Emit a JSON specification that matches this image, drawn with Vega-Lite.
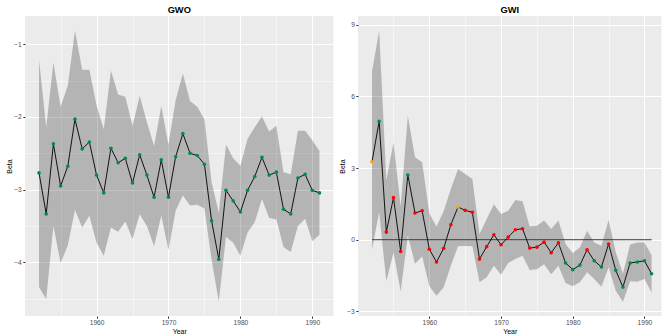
{
  "$schema": "https://vega.github.io/schema/vega-lite/v6.json",
  "padding": {"left": 5, "top": 5, "right": 0, "bottom": 0},
  "bounds": "flush",
  "spacing": 24,
  "datasets": {
    "gwo": [
      {"year": 1952, "beta": -2.77, "lo": -4.34, "hi": -1.21, "sig": "p<0.05"},
      {"year": 1953, "beta": -3.335, "lo": -4.51, "hi": -2.14, "sig": "p<0.05"},
      {"year": 1954, "beta": -2.37, "lo": -3.5, "hi": -1.25, "sig": "p<0.05"},
      {"year": 1955, "beta": -2.95, "lo": -4.01, "hi": -1.86, "sig": "p<0.05"},
      {"year": 1956, "beta": -2.68, "lo": -3.77, "hi": -1.57, "sig": "p<0.05"},
      {"year": 1957, "beta": -2.03, "lo": -3.28, "hi": -0.81, "sig": "p<0.05"},
      {"year": 1958, "beta": -2.44, "lo": -3.52, "hi": -1.35, "sig": "p<0.05"},
      {"year": 1959, "beta": -2.345, "lo": -3.36, "hi": -1.35, "sig": "p<0.05"},
      {"year": 1960, "beta": -2.8, "lo": -3.73, "hi": -1.84, "sig": "p<0.05"},
      {"year": 1961, "beta": -3.045, "lo": -3.91, "hi": -2.17, "sig": "p<0.05"},
      {"year": 1962, "beta": -2.43, "lo": -3.52, "hi": -1.36, "sig": "p<0.05"},
      {"year": 1963, "beta": -2.63, "lo": -3.58, "hi": -1.69, "sig": "p<0.05"},
      {"year": 1964, "beta": -2.57, "lo": -3.44, "hi": -1.72, "sig": "p<0.05"},
      {"year": 1965, "beta": -2.91, "lo": -3.68, "hi": -2.12, "sig": "p<0.05"},
      {"year": 1966, "beta": -2.52, "lo": -3.34, "hi": -1.71, "sig": "p<0.05"},
      {"year": 1967, "beta": -2.8, "lo": -3.5, "hi": -2.07, "sig": "p<0.05"},
      {"year": 1968, "beta": -3.105, "lo": -3.78, "hi": -2.4, "sig": "p<0.05"},
      {"year": 1969, "beta": -2.59, "lo": -3.36, "hi": -1.85, "sig": "p<0.05"},
      {"year": 1970, "beta": -3.105, "lo": -3.83, "hi": -2.38, "sig": "p<0.05"},
      {"year": 1971, "beta": -2.547, "lo": -3.29, "hi": -1.77, "sig": "p<0.05"},
      {"year": 1972, "beta": -2.23, "lo": -3.08, "hi": -1.4, "sig": "p<0.05"},
      {"year": 1973, "beta": -2.5, "lo": -3.22, "hi": -1.78, "sig": "p<0.05"},
      {"year": 1974, "beta": -2.53, "lo": -3.21, "hi": -1.86, "sig": "p<0.05"},
      {"year": 1975, "beta": -2.65, "lo": -3.26, "hi": -2.03, "sig": "p<0.05"},
      {"year": 1976, "beta": -3.43, "lo": -3.97, "hi": -2.9, "sig": "p<0.05"},
      {"year": 1977, "beta": -3.96, "lo": -4.54, "hi": -3.32, "sig": "p<0.05"},
      {"year": 1978, "beta": -3.01, "lo": -3.65, "hi": -2.38, "sig": "p<0.05"},
      {"year": 1979, "beta": -3.155, "lo": -3.73, "hi": -2.57, "sig": "p<0.05"},
      {"year": 1980, "beta": -3.307, "lo": -3.91, "hi": -2.67, "sig": "p<0.05"},
      {"year": 1981, "beta": -3.01, "lo": -3.59, "hi": -2.3, "sig": "p<0.05"},
      {"year": 1982, "beta": -2.82, "lo": -3.45, "hi": -2.14, "sig": "p<0.05"},
      {"year": 1983, "beta": -2.556, "lo": -3.13, "hi": -1.99, "sig": "p<0.05"},
      {"year": 1984, "beta": -2.8, "lo": -3.39, "hi": -2.2, "sig": "p<0.05"},
      {"year": 1985, "beta": -2.76, "lo": -3.41, "hi": -2.12, "sig": "p<0.05"},
      {"year": 1986, "beta": -3.27, "lo": -3.79, "hi": -2.76, "sig": "p<0.05"},
      {"year": 1987, "beta": -3.335, "lo": -3.86, "hi": -2.79, "sig": "p<0.05"},
      {"year": 1988, "beta": -2.84, "lo": -3.5, "hi": -2.19, "sig": "p<0.05"},
      {"year": 1989, "beta": -2.79, "lo": -3.4, "hi": -2.19, "sig": "p<0.05"},
      {"year": 1990, "beta": -3.01, "lo": -3.71, "hi": -2.32, "sig": "p<0.05"},
      {"year": 1991, "beta": -3.045, "lo": -3.62, "hi": -2.47, "sig": "p<0.05"}
    ],
    "gwi": [
      {"year": 1952, "beta": 3.26, "lo": -0.42, "hi": 7.03, "sig": "p<0.10"},
      {"year": 1953, "beta": 4.95, "lo": 1.15, "hi": 8.74, "sig": "p<0.05"},
      {"year": 1954, "beta": 0.32, "lo": -1.75, "hi": 2.5, "sig": "n.s."},
      {"year": 1955, "beta": 1.76, "lo": -0.53, "hi": 4.07, "sig": "n.s."},
      {"year": 1956, "beta": -0.49, "lo": -2.17, "hi": 1.4, "sig": "n.s."},
      {"year": 1957, "beta": 2.71, "lo": 0.17, "hi": 5.19, "sig": "p<0.05"},
      {"year": 1958, "beta": 1.12, "lo": -1.0, "hi": 3.45, "sig": "n.s."},
      {"year": 1959, "beta": 1.21, "lo": -0.7, "hi": 3.24, "sig": "n.s."},
      {"year": 1960, "beta": -0.4, "lo": -1.95, "hi": 1.1, "sig": "n.s."},
      {"year": 1961, "beta": -0.93, "lo": -2.34, "hi": 0.55, "sig": "n.s."},
      {"year": 1962, "beta": -0.36, "lo": -1.99, "hi": 1.2, "sig": "n.s."},
      {"year": 1963, "beta": 0.63, "lo": -1.09, "hi": 2.12, "sig": "n.s."},
      {"year": 1964, "beta": 1.37, "lo": -0.27, "hi": 2.96, "sig": "p<0.10"},
      {"year": 1965, "beta": 1.23, "lo": -0.26, "hi": 2.75, "sig": "n.s."},
      {"year": 1966, "beta": 1.15, "lo": -0.27, "hi": 2.54, "sig": "n.s."},
      {"year": 1967, "beta": -0.81, "lo": -1.78, "hi": 0.24, "sig": "n.s."},
      {"year": 1968, "beta": -0.29, "lo": -1.57, "hi": 0.87, "sig": "n.s."},
      {"year": 1969, "beta": 0.21, "lo": -1.09, "hi": 1.49, "sig": "n.s."},
      {"year": 1970, "beta": -0.21, "lo": -1.46, "hi": 1.08, "sig": "n.s."},
      {"year": 1971, "beta": 0.11, "lo": -0.97, "hi": 1.21, "sig": "n.s."},
      {"year": 1972, "beta": 0.42, "lo": -0.81, "hi": 1.66, "sig": "n.s."},
      {"year": 1973, "beta": 0.46, "lo": -0.67, "hi": 1.61, "sig": "n.s."},
      {"year": 1974, "beta": -0.35, "lo": -1.27, "hi": 0.55, "sig": "n.s."},
      {"year": 1975, "beta": -0.31, "lo": -1.23, "hi": 0.59, "sig": "n.s."},
      {"year": 1976, "beta": -0.1, "lo": -1.02, "hi": 0.8, "sig": "n.s."},
      {"year": 1977, "beta": -0.54, "lo": -1.44, "hi": 0.45, "sig": "n.s."},
      {"year": 1978, "beta": -0.13, "lo": -1.09, "hi": 0.8, "sig": "n.s."},
      {"year": 1979, "beta": -0.97, "lo": -1.81, "hi": -0.18, "sig": "p<0.05"},
      {"year": 1980, "beta": -1.25, "lo": -1.95, "hi": -0.55, "sig": "p<0.05"},
      {"year": 1981, "beta": -1.06, "lo": -1.78, "hi": -0.32, "sig": "p<0.05"},
      {"year": 1982, "beta": -0.42, "lo": -1.36, "hi": 0.38, "sig": "n.s."},
      {"year": 1983, "beta": -0.88, "lo": -1.64, "hi": -0.11, "sig": "p<0.05"},
      {"year": 1984, "beta": -1.14, "lo": -1.97, "hi": -0.25, "sig": "p<0.05"},
      {"year": 1985, "beta": -0.18, "lo": -1.16, "hi": 0.83, "sig": "n.s."},
      {"year": 1986, "beta": -1.28, "lo": -2.13, "hi": -0.52, "sig": "p<0.05"},
      {"year": 1987, "beta": -1.98, "lo": -2.6, "hi": -1.41, "sig": "p<0.05"},
      {"year": 1988, "beta": -0.97, "lo": -1.74, "hi": -0.2, "sig": "p<0.05"},
      {"year": 1989, "beta": -0.93, "lo": -1.76, "hi": -0.11, "sig": "p<0.05"},
      {"year": 1990, "beta": -0.88, "lo": -1.64, "hi": -0.11, "sig": "p<0.05"},
      {"year": 1991, "beta": -1.42, "lo": -2.21, "hi": -0.65, "sig": "p<0.05"}
    ]
  },
  "hconcat": [
    {
      "title": "GWO",
      "width": 308.5,
      "height": 300,
      "data": {"name": "gwo"},
      "encoding": {
        "x": {
          "field": "year", "type": "quantitative",
          "scale": {"domain": [1950.05, 1992.95], "nice": false, "zero": false},
          "axis": {
            "title": "Year",
            "values": [1955, 1960, 1965, 1970, 1975, 1980, 1985, 1990],
            "labelExpr": "datum.value % 10 === 0 ? format(datum.value, 'd') : ''",
            "gridWidth": {"condition": {"test": "datum.value % 10 === 0", "value": 1}, "value": 0.5},
            "tickOpacity": {"condition": {"test": "datum.value % 10 === 0", "value": 1}, "value": 0}
          }
        }
      },
      "layer": [
        {
          "mark": {"type": "area", "fill": "#000000", "fillOpacity": 0.23},
          "encoding": {
            "y": {
              "field": "lo", "type": "quantitative",
              "scale": {"domain": [-4.74, -0.61], "nice": false, "zero": false},
              "axis": {
                "title": "Beta",
                "values": [-4.5, -4, -3.5, -3, -2.5, -2, -1.5, -1],
                "labelExpr": "datum.value % 1 === 0 ? format(datum.value, 'd') : ''",
                "gridWidth": {"condition": {"test": "datum.value % 1 === 0", "value": 1}, "value": 0.5},
                "tickOpacity": {"condition": {"test": "datum.value % 1 === 0", "value": 1}, "value": 0}
              }
            },
            "y2": {"field": "hi"}
          }
        },
        {
          "mark": {"type": "line", "color": "#000000", "strokeWidth": 0.9},
          "encoding": {"y": {"field": "beta", "type": "quantitative"}}
        },
        {
          "mark": {"type": "point", "filled": true, "size": 13, "opacity": 1, "strokeWidth": 0},
          "encoding": {
            "y": {"field": "beta", "type": "quantitative"},
            "color": {
              "field": "sig", "type": "nominal",
              "scale": {"domain": ["p<0.05", "p<0.10", "n.s."], "range": ["#008B45", "#FFA500", "#FF0000"]},
              "legend": null
            }
          }
        }
      ]
    },
    {
      "title": "GWI",
      "width": 303.5,
      "height": 300,
      "data": {"name": "gwi"},
      "encoding": {
        "x": {
          "field": "year", "type": "quantitative",
          "scale": {"domain": [1950.05, 1992.38], "nice": false, "zero": false},
          "axis": {
            "title": "Year",
            "values": [1955, 1960, 1965, 1970, 1975, 1980, 1985, 1990],
            "labelExpr": "datum.value % 10 === 0 ? format(datum.value, 'd') : ''",
            "gridWidth": {"condition": {"test": "datum.value % 10 === 0", "value": 1}, "value": 0.5},
            "tickOpacity": {"condition": {"test": "datum.value % 10 === 0", "value": 1}, "value": 0}
          }
        }
      },
      "layer": [
        {
          "mark": {"type": "area", "fill": "#000000", "fillOpacity": 0.23},
          "encoding": {
            "y": {
              "field": "lo", "type": "quantitative",
              "scale": {"domain": [-3.19, 9.36], "nice": false, "zero": false},
              "axis": {
                "title": "Beta",
                "values": [-3, -1.5, 0, 1.5, 3, 4.5, 6, 7.5, 9],
                "labelExpr": "datum.value % 3 === 0 ? format(datum.value, 'd') : ''",
                "gridWidth": {"condition": {"test": "datum.value % 3 === 0", "value": 1}, "value": 0.5},
                "tickOpacity": {"condition": {"test": "datum.value % 3 === 0", "value": 1}, "value": 0}
              }
            },
            "y2": {"field": "hi"}
          }
        },
        {
          "mark": {"type": "line", "color": "#333333", "strokeWidth": 1.2},
          "encoding": {"y": {"datum": 0, "type": "quantitative"}}
        },
        {
          "mark": {"type": "line", "color": "#000000", "strokeWidth": 0.9},
          "encoding": {"y": {"field": "beta", "type": "quantitative"}}
        },
        {
          "mark": {"type": "point", "filled": true, "size": 13, "opacity": 1, "strokeWidth": 0},
          "encoding": {
            "y": {"field": "beta", "type": "quantitative"},
            "color": {
              "field": "sig", "type": "nominal",
              "scale": {"domain": ["p<0.05", "p<0.10", "n.s."], "range": ["#008B45", "#FFA500", "#FF0000"]},
              "legend": null
            }
          }
        }
      ]
    }
  ],
  "config": {
    "view": {"fill": "#EBEBEB", "stroke": null},
    "axis": {
      "domain": false,
      "gridColor": "#FFFFFF",
      "tickColor": "#333333",
      "tickSize": 2.2,
      "labelFont": "Liberation Sans",
      "labelFontSize": 6.6,
      "labelColor": "#4D4D4D",
      "labelPadding": 1.5,
      "labelOverlap": false,
      "labelFlush": false,
      "titleFont": "Liberation Sans",
      "titleFontSize": 7,
      "titleFontWeight": "normal",
      "titleColor": "#000000",
      "titlePadding": 1
    },
    "title": {"font": "Liberation Sans", "fontSize": 9.3, "fontWeight": "bold", "anchor": "middle", "offset": 1, "color": "#000000"}
  }
}
